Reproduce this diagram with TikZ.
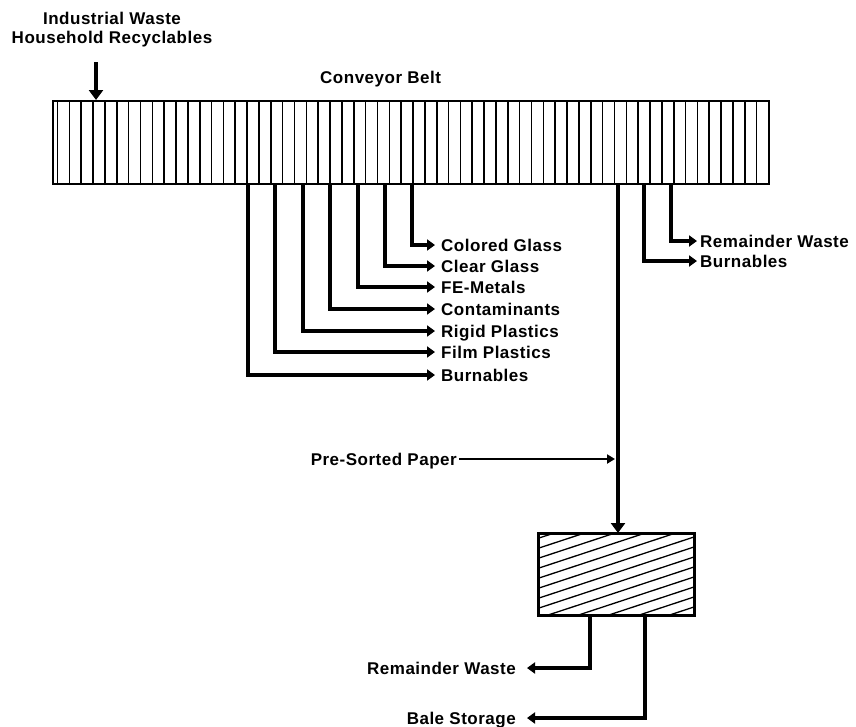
\documentclass[tikz,border=0pt]{standalone}
\usepackage{fontspec}
\setmainfont{Liberation Sans}[LetterSpace=3]
\usetikzlibrary{arrows.meta,calc}
\newcommand\labfont{\fontsize{17}{19.5}\selectfont\bfseries}
\tikzset{
  lab/.style={font=\labfont, inner sep=0pt, text height=12pt, text depth=0pt},
  stripe/.style={line width=1.6pt},
  frame/.style={draw, line width=2pt, inner sep=0pt},
  arr/.style={line width=4pt, -{Triangle[length=8pt,width=11pt]}},
  bigarr/.style={line width=4.5pt, -{Triangle[length=10pt,width=14pt]}},
  thinarr/.style={line width=2.5pt, -{Triangle[length=8pt,width=9pt]}},
  hatch/.style={line width=1.3pt}
}
\begin{document}
\begin{tikzpicture}[x=1pt,y=-1pt]
\useasboundingbox (0,0) rectangle (856,726);
% input
\node[lab, align=center, text height=, anchor=south] (inp) at (112,44) {Industrial Waste\\Household Recyclables};
\node[lab, anchor=south west, text height=, text depth=] (cb) at (320,87) {Conveyor Belt};
% belt
\node[frame, minimum width=716pt, minimum height=83pt, anchor=north west] (belt) at (52,100) {};
\foreach \i in {0,...,59}
  \draw[stripe] ([xshift={5.5pt+11.85pt*\i}]belt.south west) -- ([xshift={5.5pt+11.85pt*\i}]belt.north west);
\coordinate (intop) at (96,62);
\draw[bigarr] (intop) -- (intop |- belt.north);
% left labels
\node[lab, anchor=west] (l1) at (441,245) {Colored Glass};
\node[lab, anchor=west] (l2) at (441,266) {Clear Glass};
\node[lab, anchor=west] (l3) at (441,287) {FE-Metals};
\node[lab, anchor=west] (l4) at (441,309) {Contaminants};
\node[lab, anchor=west] (l5) at (441,331) {Rigid Plastics};
\node[lab, anchor=west] (l6) at (441,352) {Film Plastics};
\node[lab, anchor=west] (l7) at (441,375) {Burnables};
\draw[arr] ([xshift=360pt]belt.south west) |- ([xshift=-6pt]l1.west);
\draw[arr] ([xshift=333pt]belt.south west) |- ([xshift=-6pt]l2.west);
\draw[arr] ([xshift=306pt]belt.south west) |- ([xshift=-6pt]l3.west);
\draw[arr] ([xshift=278pt]belt.south west) |- ([xshift=-6pt]l4.west);
\draw[arr] ([xshift=251pt]belt.south west) |- ([xshift=-6pt]l5.west);
\draw[arr] ([xshift=223pt]belt.south west) |- ([xshift=-6pt]l6.west);
\draw[arr] ([xshift=196pt]belt.south west) |- ([xshift=-6pt]l7.west);
% right labels
\node[lab, anchor=west] (r1) at (700,241) {Remainder Waste};
\node[lab, anchor=west] (r2) at (700,261) {Burnables};
\draw[arr] ([xshift=619pt]belt.south west) |- ([xshift=-3pt]r1.west);
\draw[arr] ([xshift=592pt]belt.south west) |- ([xshift=-3pt]r2.west);
% baler
\node[frame, minimum width=155pt, minimum height=81pt, anchor=north west] (box) at (538,533) {};
\begin{scope}
  \clip (box.south west) rectangle (box.north east);
  \foreach \k in {-6,...,14}
    \draw[hatch] ($(box.north west)+(-5,{7+10*\k})$) -- ++(170,-56);
\end{scope}
\draw[frame] (box.south west) rectangle (box.north east);
\coordinate (m) at ([xshift=566pt]belt.south west);
\draw[bigarr] (m) -- (m |- box.north);
\node[lab, anchor=east] (psp) at (457,459) {Pre-Sorted Paper};
\draw[thinarr, shorten >=3pt] ([xshift=2pt]psp.east) -- (psp.east -| m);
% outputs
\node[lab, anchor=east] (o1) at (516,668) {Remainder Waste};
\node[lab, anchor=east] (o2) at (516,718) {Bale Storage};
\draw[arr] ([xshift=52pt]box.south west) |- ([xshift=11pt]o1.east);
\draw[arr] ([xshift=107pt]box.south west) |- ([xshift=11pt]o2.east);
\end{tikzpicture}
\end{document}
